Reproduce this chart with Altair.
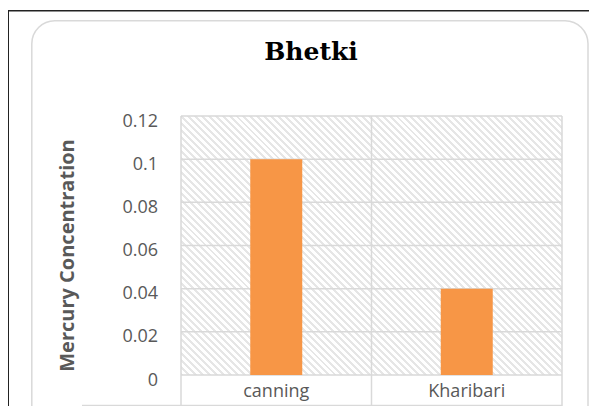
import altair as alt
import pandas as pd

# ---- data ----
categories = ["canning", "Kharibari"]
values = [0.1, 0.04]
y_ticks = [0, 0.02, 0.04, 0.06, 0.08, 0.1, 0.12]
chart_title = "Bhetki"
y_title = "Mercury Concentration"

# ---- layout (plot area) ----
W, H = 381, 259
PAD = {"left": 173, "top": 108, "right": 27, "bottom": 31}

GRID = "#d9d9d9"
TXT = "#595959"

bars_df = pd.DataFrame({"site": categories, "hg": values})
grid_df = pd.DataFrame({"hg": y_ticks})
cat_df = pd.DataFrame({"site": categories})
one = pd.DataFrame({"d": [0]})

x_scale = alt.Scale(domain=categories, paddingInner=0, paddingOuter=0)
y_scale = alt.Scale(domain=[0, 0.12], nice=False, zero=True)

x_axis = alt.Axis(
    domain=False, ticks=False, grid=False, labelAngle=0,
    labelFont="Open Sans", labelFontSize=18, labelColor=TXT,
    labelPadding=21, labelBaseline="alphabetic",
)
y_axis = alt.Axis(
    values=y_ticks, format=".2~f", domain=False, ticks=False, grid=False,
    labelFont="Open Sans", labelFontSize=18, labelColor=TXT,
    labelPadding=23.5, labelOffset=5,
    titleFont="Open Sans", titleFontSize=20, titleFontWeight="bold",
    titleColor=TXT, titleAngle=270, titleAlign="center",
    titleBaseline="alphabetic", titleX=-108, titleY=139,
)

# hatch pattern emulated with a striped linear gradient
n = 92
stops = []
for k in range(n):
    a = k / n
    b = (k + 0.42) / n
    c = (k + 1) / n
    stops += [
        alt.GradientStop(offset=a, color="#e6e6e6"),
        alt.GradientStop(offset=b, color="#e6e6e6"),
        alt.GradientStop(offset=b, color="#ffffff"),
        alt.GradientStop(offset=c, color="#ffffff"),
    ]
s = (W + H) / (W * W + H * H)
hatch_fill = alt.Gradient(gradient="linear", stops=stops, x1=0, y1=1, x2=s * W, y2=1 - s * H)

frame_border = alt.Chart(one).mark_rect(
    filled=False, color=GRID, stroke=GRID, strokeWidth=1.5, cornerRadius=23
).encode(x=alt.value(-149.2), x2=alt.value(407), y=alt.value(-95.3), y2=alt.value(420))

black_top = alt.Chart(one).mark_rule(color="#222222", strokeWidth=1.6).encode(
    x=alt.value(-190), x2=alt.value(430), y=alt.value(-105.2)
)
black_left = alt.Chart(one).mark_rule(color="#222222", strokeWidth=1.6).encode(
    x=alt.value(-172.8), y=alt.value(-106), y2=alt.value(320)
)

hatch = alt.Chart(one).mark_rect(fill=hatch_fill).encode(
    x=alt.value(0), x2=alt.value(W), y=alt.value(0), y2=alt.value(H)
)

hgrid = alt.Chart(grid_df).mark_rule(color=GRID, strokeWidth=1.5).encode(
    y=alt.Y("hg:Q", scale=y_scale, axis=y_axis, title=y_title)
)

vgrid = alt.Chart(cat_df).mark_rule(color=GRID, strokeWidth=1.5).encode(
    x=alt.X("site:N", scale=x_scale, bandPosition=0, axis=x_axis, title=None),
    y=alt.value(0),
    y2=alt.value(320),
)
right_edge = alt.Chart(one).mark_rule(color=GRID, strokeWidth=1.5).encode(
    x=alt.value(W), y=alt.value(0), y2=alt.value(320)
)
table_line = alt.Chart(one).mark_rule(color=GRID, strokeWidth=1.5).encode(
    x=alt.value(-99), x2=alt.value(W), y=alt.value(289.5)
)

bars = alt.Chart(bars_df).mark_bar(size=52, color="#F79646").encode(
    x=alt.X("site:N", scale=x_scale, axis=x_axis, title=None),
    y=alt.Y("hg:Q", scale=y_scale, axis=y_axis, title=y_title),
)

title = alt.Chart(one).mark_text(
    text=chart_title, font="DejaVu Serif", fontSize=25, fontWeight="bold",
    color="#000000", align="center", baseline="alphabetic",
).encode(x=alt.value(130), y=alt.value(-56.5))

chart = alt.layer(
    frame_border, black_top, black_left, hatch, hgrid, vgrid, right_edge,
    table_line, bars, title,
).properties(
    width=W, height=H, autosize="none", padding=PAD, background="white"
).configure_view(stroke=None)

chart.save("out.html", embed_options={"renderer": "svg", "actions": False})
